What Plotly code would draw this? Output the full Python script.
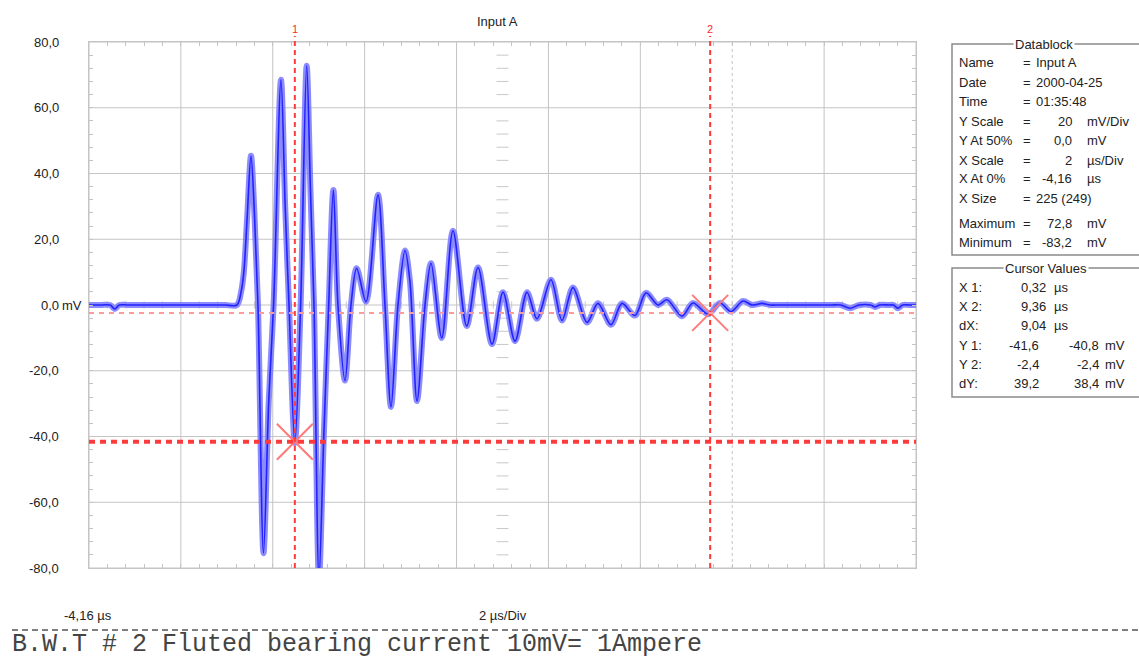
import plotly.graph_objects as go

# ---------------- data ----------------
t_us = [-4.16, -3.90, -3.70, -3.60, -3.50, -3.30, -2.80, -2.20, -1.60, -1.20, -0.94, -0.85, -0.79,
        -0.72, -0.634, -0.56, -0.482,
        -0.362, -0.25, -0.142, 0.019, 0.11, 0.193, 0.32, 0.446, 0.578, 0.66, 0.737,
        0.846, 0.95, 1.057, 1.159, 1.259, 1.412, 1.542, 1.666, 1.869, 2.130, 2.282,
        2.413, 2.565, 2.718, 2.827, 2.979, 3.153, 3.284, 3.517, 3.762, 4.061, 4.307,
        4.611, 4.851, 5.112, 5.373, 5.591, 5.895, 6.135, 6.374, 6.679, 6.918, 7.201,
        7.441, 7.724, 7.963, 8.224, 8.420, 8.747, 8.986, 9.313, 9.574, 9.813, 10.074,
        10.270, 10.488, 10.662, 10.85, 11.10, 11.40, 11.70, 12.00, 12.20, 12.403, 12.60,
        12.85, 12.947, 13.05, 13.25, 13.35, 13.448, 13.55, 13.70, 13.84]
v_mV = [0, 0, 0, -1.2, 0, 0, 0, 0, 0, 0, 0, 4, 10,
        26, 45.4, 28, 0,
        -75.5, -30, 0, 68.5, 30, 0, -42, 0, 72.8, 35, 0,
        -83.2, -40, 0, 35, 0, -23, 0, 11.2, 1, 33.5, 0,
        -31, 0, 16.6, 7, -29.2, 0, 12.7, -10, 22.6, -6.4, 11.4,
        -11.9, 3.9, -11, 3.9, -4.2, 7.7, -4.7, 5.3, -5.3, 0.5, -6,
        0.5, -3.2, 3.7, 0, 1.6, -3.4, 0.6, -2.8, 0.6, -2, 1.2,
        0, 0.5, 0, 0, 0, 0, 0, 0, 0, -1, 0,
        0, -0.6, 0, 0, 0, -1, 0, 0, 0]

cursor_x = [0.32, 9.36]
cursor_y = [-41.6, -2.4]
cursor_names = ["1", "2"]
trigger_t = [0.0]

x_start = -4.16
x_div = 2.0
n_xdiv = 9
y_min, y_max = -80, 80
ytick_vals = [80, 60, 40, 20, 0, -20, -40, -60, -80]
ytick_labels = ["80,0", "60,0", "40,0", "20,0", "0,0", "-20,0", "-40,0", "-60,0", "-80,0"]

db_labels = ["Name", "Date", "Time", "Y Scale", "Y At 50%", "X Scale", "X At 0%", "X Size", "Maximum", "Minimum"]
db_values = ["Input A", "2000-04-25", "01:35:48", "20", "0,0", "2", "-4,16", "225 (249)", "72,8", "-83,2"]
db_units = ["", "", "", "mV/Div", "mV", "µs/Div", "µs", "", "mV", "mV"]

cv_labels = ["X 1:", "X 2:", "dX:", "Y 1:", "Y 2:", "dY:"]
cv_col1 = ["0,32", "9,36", "9,04", "-41,6", "-2,4", "39,2"]
cv_unit1 = ["µs", "µs", "µs", "", "", ""]
cv_col2 = ["", "", "", "-40,8", "-2,4", "38,4"]

title_text = "Input A"
x_left_label = "-4,16 µs"
x_scale_label = "2 µs/Div"
footer_text = "B.W.T # 2 Fluted bearing current 10mV= 1Ampere"

# ---------------- layout helpers (pixel -> paper) ----------------
W, H = 1139, 658
L, R, T, B = 89, 916, 42, 568
def px(x):
    return (x - L) / (R - L)
def py(y):
    return (B - y) / (B - T)

x_end = x_start + n_xdiv * x_div
FONT = "Liberation Sans, Arial, sans-serif"
TXT = "#222222"

fig = go.Figure()

# waveform: light envelope + dark core
fig.add_trace(go.Scatter(x=t_us, y=v_mV, mode="lines",
                         line=dict(color="rgba(120,120,255,0.85)", width=6, shape="spline", smoothing=0.9),
                         hoverinfo="skip", showlegend=False))
fig.add_trace(go.Scatter(x=t_us, y=v_mV, mode="lines",
                         line=dict(color="#2222ff", width=1.6, shape="spline", smoothing=0.9),
                         showlegend=False))

shapes = []
# vertical grid lines
for i in range(n_xdiv + 1):
    xv = x_start + i * x_div
    shapes.append(dict(type="line", xref="x", yref="y", x0=xv, x1=xv, y0=y_min, y1=y_max,
                       line=dict(color="#c4c4c4", width=1, dash="3px,3px" if i == 7 else "solid"),
                       layer="below"))
# horizontal grid lines
for yv in ytick_vals:
    shapes.append(dict(type="line", xref="paper", yref="y", x0=0, x1=1, y0=yv, y1=yv,
                       line=dict(color="#c4c4c4", width=1), layer="below"))
# centre vertical scale marks
x_mid = x_start + n_xdiv * x_div / 2
for k in range(-19, 20):
    yv = k * 4
    if yv % 20 == 0:
        continue
    shapes.append(dict(type="line", xref="x", yref="y", x0=x_mid - 0.13, x1=x_mid + 0.13, y0=yv, y1=yv,
                       line=dict(color="#c8c8c8", width=1), layer="below"))
# centre horizontal scale marks (on 0 line)
for k in range(1, n_xdiv * 5):
    xv = x_start + k * x_div / 5
    shapes.append(dict(type="line", xref="x", yref="y", x0=xv, x1=xv, y0=-1.1, y1=1.1,
                       line=dict(color="#c8c8c8", width=1), layer="below"))

# cursors
for cx in cursor_x:
    shapes.append(dict(type="line", xref="x", yref="paper", x0=cx, x1=cx, y0=0, y1=py(36),
                       line=dict(color="#ff3a3a", width=2, dash="5px,4px"), layer="above"))
shapes.append(dict(type="line", xref="paper", yref="y", x0=0, x1=1, y0=cursor_y[0], y1=cursor_y[0],
                   line=dict(color="#ff3a3a", width=4, dash="6px,5px"), layer="above"))
shapes.append(dict(type="line", xref="paper", yref="y", x0=0, x1=1, y0=cursor_y[1], y1=cursor_y[1],
                   line=dict(color="#ff9a9a", width=2, dash="5px,5px"), layer="above"))

# info boxes
shapes.append(dict(type="rect", xref="paper", yref="paper", x0=px(952), x1=px(1150), y0=py(255), y1=py(44),
                   line=dict(color="#8a8a8a", width=1.5)))
shapes.append(dict(type="rect", xref="paper", yref="paper", x0=px(952), x1=px(1150), y0=py(397), y1=py(268),
                   line=dict(color="#8a8a8a", width=1.5)))
# footer dashed line
shapes.append(dict(type="line", xref="paper", yref="paper", x0=px(12), x1=px(1139), y0=py(630), y1=py(630),
                   line=dict(color="#555555", width=1.5, dash="6px,4px")))

# cursor cross markers
fig.add_trace(go.Scatter(x=cursor_x, y=cursor_y, mode="markers",
                         marker=dict(symbol="x-thin", size=36, line=dict(color="#ff7a7a", width=2)),
                         showlegend=False, hoverinfo="skip"))
# cursor head markers
fig.add_trace(go.Scatter(x=cursor_x, y=[y_max + 1.2] * len(cursor_x), mode="markers",
                         marker=dict(symbol="triangle-down", size=6, color="#ff2a2a"),
                         cliponaxis=False, showlegend=False, hoverinfo="skip"))
# trigger marker
fig.add_trace(go.Scatter(x=trigger_t, y=[y_min - 1.4], mode="markers",
                         marker=dict(symbol="triangle-up", size=7, color="#111111"),
                         cliponaxis=False, showlegend=False, hoverinfo="skip"))

ann = []
def text(x, y, s, size=13, xanchor="left", yanchor="middle", color=TXT, family=FONT, bg=None, xref="paper", yref="paper"):
    d = dict(x=x, y=y, xref=xref, yref=yref, text=s, showarrow=False, xanchor=xanchor, yanchor=yanchor,
             font=dict(size=size, color=color, family=family))
    if bg:
        d["bgcolor"] = bg
    ann.append(d)

# y tick labels
for v, lab in zip(ytick_vals, ytick_labels):
    text(px(61), v, lab, size=13, xanchor="right", yref="y")
text(px(60), 0, "mV", size=13, xanchor="left", yref="y")

# cursor numbers
for cx, nm in zip(cursor_x, cursor_names):
    text(cx, py(29), nm, size=11, xanchor="center", color="#ff2a2a", xref="x")

text(px(497), py(22), title_text, size=13, xanchor="center")
text(px(62), py(615), x_left_label, size=13)
text(px(503), py(615), x_scale_label, size=13, xanchor="center")
text(px(10), py(644), footer_text, size=25, color="#444444", family="Liberation Mono, Courier New, monospace")

# datablock
text(px(1044), py(44), "Datablock", size=13, xanchor="center", bg="white")
db_rows = [62, 82, 101, 121, 140, 160, 179, 198, 223, 242]
for yy, lab, val, unit in zip(db_rows, db_labels, db_values, db_units):
    text(px(957), py(yy), lab)
    text(px(1021), py(yy), "=")
    if unit:
        text(px(1074), py(yy), val, xanchor="right")
        text(px(1085), py(yy), unit)
    else:
        text(px(1034), py(yy), val)

# cursor values
text(px(1046), py(268), "Cursor Values", size=13, xanchor="center", bg="white")
cv_rows = [287, 306, 325, 345, 364, 383]
for yy, lab, c1, u1, c2 in zip(cv_rows, cv_labels, cv_col1, cv_unit1, cv_col2):
    text(px(957), py(yy), lab)
    if u1:
        text(px(1048), py(yy), c1, xanchor="right")
        text(px(1052), py(yy), u1)
    else:
        text(px(1041), py(yy), c1, xanchor="right")
        text(px(1101), py(yy), c2, xanchor="right")
        text(px(1103), py(yy), "mV")

fig.update_layout(
    width=W, height=H, autosize=False,
    margin=dict(l=L, r=W - R, t=T, b=H - B, pad=0),
    paper_bgcolor="white", plot_bgcolor="white",
    shapes=shapes, annotations=ann, showlegend=False,
    font=dict(family=FONT, color=TXT),
    xaxis=dict(range=[x_start, x_end], showgrid=False, zeroline=False, showticklabels=False,
               showline=True, mirror="allticks", linecolor="#c4c4c4", linewidth=1,
               ticks="inside", ticklen=4, tickcolor="#c4c4c4", tick0=x_start, dtick=x_div / 5),
    yaxis=dict(range=[y_min, y_max], showgrid=False, zeroline=False, showticklabels=False,
               showline=True, mirror="allticks", linecolor="#c4c4c4", linewidth=1,
               ticks="inside", ticklen=4, tickcolor="#c4c4c4", tick0=0, dtick=4),
)

fig.write_html("out.html")
